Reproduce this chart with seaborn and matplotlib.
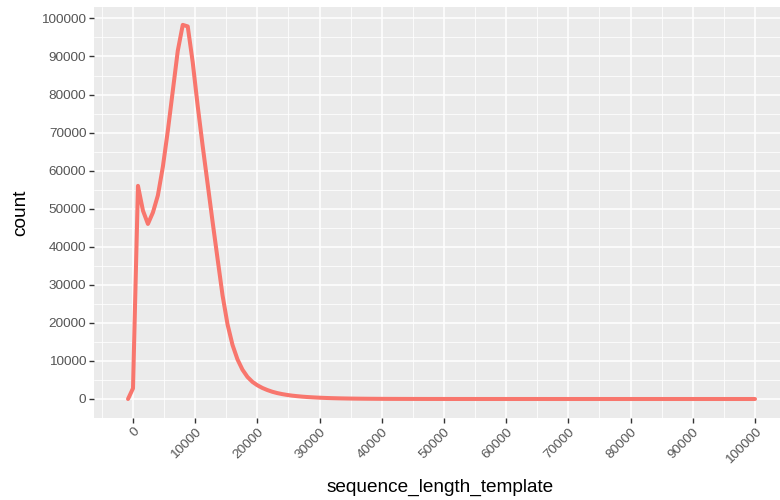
import numpy as np
import pandas as pd
import matplotlib
matplotlib.use("Agg")
import matplotlib.pyplot as plt
from matplotlib.ticker import MultipleLocator
import seaborn as sns

# frequency polygon: bin width 800, first bin centre -800, last 100000
bin_start = -800
bin_width = 800
counts = [
    0, 2800, 56000, 49500, 46000, 49000, 53500, 61000, 70500, 81000,
    91500, 98300, 97900, 88500, 77000, 66500, 56500, 46500, 36800, 27200,
    19600, 14200, 10400, 7700, 5800, 4500, 3600, 2900, 2350, 1900,
    1550, 1280, 1060, 880, 740, 620, 520, 440, 370, 310,
    260, 220, 185, 155, 130, 110, 92, 78, 66, 56,
    47, 40, 34, 29, 25, 21, 18, 15, 13, 11,
    9, 8, 7, 6, 5, 4, 4, 3, 3, 2,
    2, 2, 1, 1, 1, 1, 1, 1, 1, 1,
    1, 1, 1, 1, 0, 0, 0, 0, 0, 0,
    0, 0, 0, 0, 0, 0, 0, 0, 0, 0,
    0, 0, 0, 0, 0, 0, 0, 0, 0, 0,
    0, 0, 0, 0, 0, 0, 0, 0, 0, 0,
    0, 0, 0, 0, 0, 0, 0,
]
x_ticks = [0, 10000, 20000, 30000, 40000, 50000, 60000, 70000, 80000, 90000, 100000]
y_ticks = [0, 10000, 20000, 30000, 40000, 50000, 60000, 70000, 80000, 90000, 100000]

centres = bin_start + bin_width * np.arange(len(counts))
df = pd.DataFrame({"sequence_length_template": centres, "count": counts})

sns.set_theme(style="darkgrid")
plt.rcParams["font.family"] = ["Liberation Sans", "DejaVu Sans"]

fig = plt.figure(figsize=(7.8, 5.0), dpi=100)
ax = fig.add_axes([94 / 780, 82 / 500, 692 / 780, 411 / 500])
ax.set_facecolor("#EBEBEB")

sns.lineplot(data=df, x="sequence_length_template", y="count",
             color="#F8766D", linewidth=2.9, sort=False, ax=ax, zorder=3)

ax.set_xlim(-6270, 104984)
ax.set_ylim(-4993, 103000)
ax.set_xticks(x_ticks)
ax.set_yticks(y_ticks)
ax.set_xticklabels([str(v) for v in x_ticks], rotation=45, ha="right",
                   va="top", rotation_mode="anchor")
ax.set_yticklabels([str(v) for v in y_ticks])
ax.xaxis.set_minor_locator(MultipleLocator(5000))
ax.yaxis.set_minor_locator(MultipleLocator(5000))

ax.grid(which="major", color="white", linewidth=1.1)
ax.grid(which="minor", color="white", linewidth=0.55)
ax.set_axisbelow(True)
for s in ax.spines.values():
    s.set_visible(False)

ax.tick_params(axis="both", which="major", length=3.5, width=1.0,
               color="#333333", labelcolor="#555555", labelsize=9.7,
               bottom=True, left=True, pad=2)
ax.tick_params(axis="both", which="minor", length=0)

ax.set_xlabel("sequence_length_template", fontsize=13.7, color="black", labelpad=9)
ax.set_ylabel("count", fontsize=13.7, color="black", labelpad=9)

fig.savefig("out.png", dpi=100)
